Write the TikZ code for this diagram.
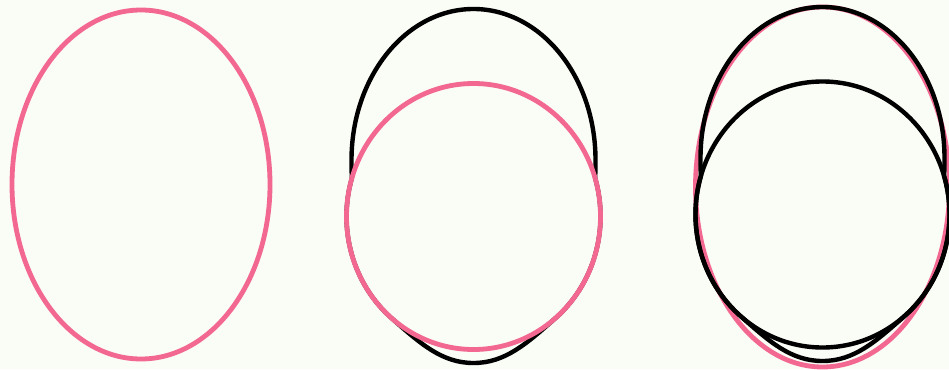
\documentclass[tikz,border=0pt]{standalone}
\usepackage{xcolor}
\usepackage{tikz}
\definecolor{eggpink}{RGB}{242,104,145}
\definecolor{paper}{RGB}{250,252,246}

\begin{document}
\begin{tikzpicture}[
    x=1pt, y=-1pt,
    pinkline/.style={draw=eggpink, line width=4.8pt},
    blackline/.style={draw=black, line width=4.4pt}
  ]

    % Background
    \fill[paper] (0,0) rectangle (949,369);
    \useasboundingbox (0,0) rectangle (949,369);

    % Left - pink ellipse alone
    \draw[pinkline] (141,184.5) ellipse [x radius=129pt, y radius=174.5pt];

    % Middle - black egg with pink circle on top
    \draw[blackline] (595.1,178) .. controls (595.5,170) and (595.5,165) .. (595.5,160)
      .. controls (595.5,76.6) and (540.8,9) .. (473.5,9)
      .. controls (406.2,9) and (351.5,76.6) .. (351.5,160)
      .. controls (351.5,165) and (351.5,170) .. (351.9,178)
      .. controls (337.3,228.7) and (352.8,283.8) .. (391.4,318)
      .. controls (420.5,343.8) and (442,363) .. (473.5,363)
      .. controls (505,363) and (526.5,343.8) .. (555.6,318)
      .. controls (594.2,283.8) and (609.7,228.7) .. (595.1,178) -- cycle;
    \draw[pinkline] (473.5,216.5) ellipse [x radius=127pt, y radius=133pt];

    % Right - pink ellipse behind black egg and black circle
    \draw[pinkline] (822.5,187) ellipse [x radius=127pt, y radius=180pt];
    \begin{scope}[shift={(349,-2)}]
      \draw[blackline] (595.1,178) .. controls (595.5,170) and (595.5,165) .. (595.5,160)
        .. controls (595.5,76.6) and (540.8,9) .. (473.5,9)
        .. controls (406.2,9) and (351.5,76.6) .. (351.5,160)
        .. controls (351.5,165) and (351.5,170) .. (351.9,178)
        .. controls (337.3,228.7) and (352.8,283.8) .. (391.4,318)
        .. controls (420.5,343.8) and (442,363) .. (473.5,363)
        .. controls (505,363) and (526.5,343.8) .. (555.6,318)
        .. controls (594.2,283.8) and (609.7,228.7) .. (595.1,178) -- cycle;
      \draw[blackline] (473.5,216.5) ellipse [x radius=127pt, y radius=133pt];
    \end{scope}

  \end{tikzpicture}
\end{document}
